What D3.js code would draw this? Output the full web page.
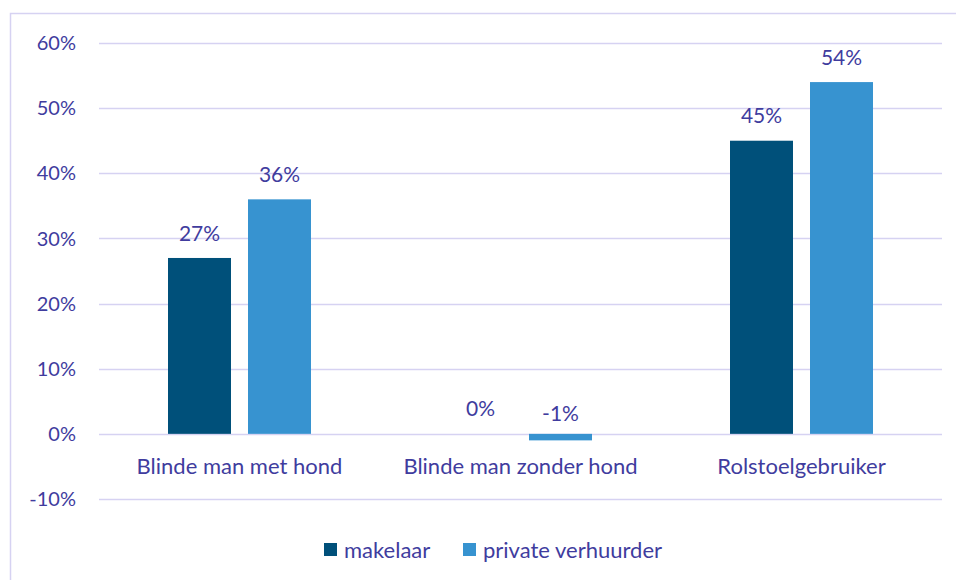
<!DOCTYPE html>
<html>
<head>
<meta charset="utf-8">
<script src="https://cdn.jsdelivr.net/npm/d3@7"></script>
<style>
  body { margin: 0; background: #fff; }
  text { font-family: Lato, "Open Sans", sans-serif; fill: #403c9e; }
</style>
</head>
<body>
<script>
var WIDTH = 956;
var HEIGHT = 580;

var categories = ['Blinde man met hond', 'Blinde man zonder hond', 'Rolstoelgebruiker'];
var seriesNames = ['makelaar', 'private verhuurder'];
var makelaar = [27, 0, 45];
var privateVerhuurder = [36, -1, 54];
var yTicks = [-10, 0, 10, 20, 30, 40, 50, 60];

var colors = ['#00507a', '#3793d0'];
var seriesValues = [makelaar, privateVerhuurder];

var svg = d3.select('body').append('svg')
    .attr('width', WIDTH)
    .attr('height', HEIGHT);

// chart frame (runs off the right and bottom edges like the original)
svg.append('rect')
    .attr('x', 10.5)
    .attr('y', 13.5)
    .attr('width', 960)
    .attr('height', 600)
    .attr('fill', 'none')
    .attr('stroke', '#d6d2f2')
    .attr('stroke-width', 1.5);

var x = d3.scaleBand()
    .domain(categories)
    .range([99, 942]);

var y = d3.scaleLinear()
    .domain([-10, 60])
    .range([499, 43]);

// bars inside a group: 63 px wide each, 17 px gap
var inner = d3.scaleBand()
    .domain(seriesNames)
    .range([-71.5, 71.5])
    .paddingInner(0.2125);

svg.append('g')
    .selectAll('line')
    .data(yTicks)
    .enter()
    .append('line')
    .attr('x1', 99)
    .attr('x2', 942)
    .attr('y1', function (d) { return Math.round(y(d)) + 0.5; })
    .attr('y2', function (d) { return Math.round(y(d)) + 0.5; })
    .attr('stroke', '#d6d2f2')
    .attr('stroke-width', 1.5);

svg.append('g')
    .selectAll('text')
    .data(yTicks)
    .enter()
    .append('text')
    .attr('x', 76)
    .attr('y', y)
    .attr('dy', '0.36em')
    .attr('text-anchor', 'end')
    .style('font-size', '20px')
    .text(function (d) { return d + '%'; });

var groups = svg.selectAll('g.group')
    .data(categories)
    .enter()
    .append('g')
    .attr('class', 'group')
    .attr('transform', function (d) { return 'translate(' + (x(d) + x.bandwidth() / 2) + ',0)'; });

groups.each(function (cat, i) {
    var g = d3.select(this);
    seriesNames.forEach(function (name, s) {
        var v = seriesValues[s][i];
        if (v !== 0) {
            g.append('rect')
                .attr('x', inner(name))
                .attr('width', inner.bandwidth())
                .attr('y', y(Math.max(v, 0)))
                .attr('height', Math.abs(y(v) - y(0)))
                .attr('fill', colors[s]);
        }
        g.append('text')
            .attr('x', inner(name) + inner.bandwidth() / 2)
            .attr('y', y(Math.max(v, 0)) - (v < 0 ? 20 : 25))
            .attr('dy', '0.36em')
            .attr('text-anchor', 'middle')
            .style('font-size', '21px')
            .text(v + '%');
    });
});

svg.append('g')
    .selectAll('text')
    .data(categories)
    .enter()
    .append('text')
    .attr('x', function (d) { return x(d) + x.bandwidth() / 2; })
    .attr('y', 466)
    .attr('dy', '0.36em')
    .attr('text-anchor', 'middle')
    .style('font-size', '22px')
    .text(function (d) { return d; });

// legend
var legendX = [324, 463];
var legend = svg.selectAll('g.legend')
    .data(seriesNames)
    .enter()
    .append('g')
    .attr('class', 'legend')
    .attr('transform', function (d, i) { return 'translate(' + legendX[i] + ',543)'; });

legend.append('rect')
    .attr('width', 13)
    .attr('height', 13)
    .attr('fill', function (d, i) { return colors[i]; });

legend.append('text')
    .attr('x', 20)
    .attr('y', 7)
    .attr('dy', '0.36em')
    .style('font-size', '22px')
    .text(function (d) { return d; });
</script>
</body>
</html>
